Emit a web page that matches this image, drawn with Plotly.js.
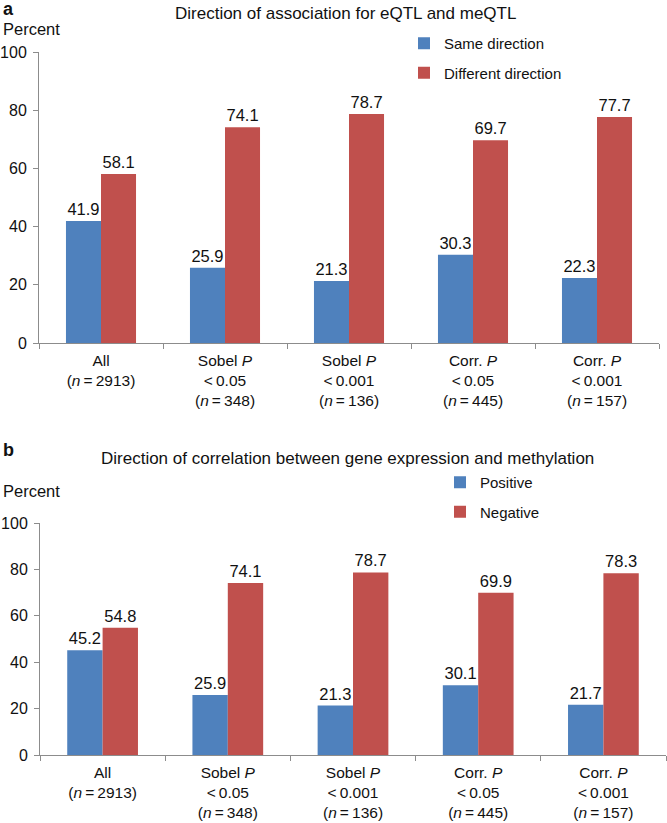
<!DOCTYPE html>
<html>
<head>
<meta charset="utf-8">
<script src="https://cdn.plot.ly/plotly-3.0.1.min.js"></script>
<style>
  html, body { margin: 0; padding: 0; background: #fff; }
  #graph { width: 667px; height: 823px; }
</style>
</head>
<body>
<div id="graph"></div>
<script>
// categories (shared by both panels)
const categories = [
    'All<br>(<i>n</i>\u2009=\u20092913)',
    'Sobel <i>P</i><br>&lt;\u20090.05<br>(<i>n</i>\u2009=\u2009348)',
    'Sobel <i>P</i><br>&lt;\u20090.001<br>(<i>n</i>\u2009=\u2009136)',
    'Corr. <i>P</i><br>&lt;\u20090.05<br>(<i>n</i>\u2009=\u2009445)',
    'Corr. <i>P</i><br>&lt;\u20090.001<br>(<i>n</i>\u2009=\u2009157)'
];

// panel a
const sameDirection = [41.9, 25.9, 21.3, 30.3, 22.3];
const differentDirection = [58.1, 74.1, 78.7, 69.7, 77.7];

// panel b
const positiveCorr = [45.2, 25.9, 21.3, 30.1, 21.7];
const negativeCorr = [54.8, 74.1, 78.7, 69.9, 78.3];

const yTicks = [0, 20, 40, 60, 80, 100];

const BLUE = '#4f81bd';
const RED = '#c0504d';
const FONT = 'Liberation Sans, Arial, sans-serif';

function barTrace(y, name, color, xa, ya, legendName, group) {
    return {
        type: 'bar',
        x: categories,
        y: y,
        name: name,
        xaxis: xa,
        yaxis: ya,
        legend: legendName,
        legendgroup: group,
        marker: { color: color, line: { width: 0 } },
        texttemplate: '%{y:.1f}',
        textposition: 'outside',
        textfont: { family: FONT, size: 16.5, color: '#111' },
        cliponaxis: false,
        hoverinfo: 'skip'
    };
}

const traces = [
    barTrace(sameDirection, 'Same direction', BLUE, 'x', 'y', 'legend', 'a1'),
    barTrace(differentDirection, 'Different direction', RED, 'x', 'y', 'legend', 'a2'),
    barTrace(positiveCorr, 'Positive', BLUE, 'x2', 'y2', 'legend2', 'b1'),
    barTrace(negativeCorr, 'Negative', RED, 'x2', 'y2', 'legend2', 'b2')
];

function xAxis(domain, anchor) {
    return {
        domain: domain,
        anchor: anchor,
        type: 'category',
        showline: true,
        linecolor: '#8c8c8c',
        linewidth: 1,
        ticks: 'outside',
        tickson: 'boundaries',
        ticklen: 5,
        tickcolor: '#8c8c8c',
        ticklabelstandoff: 3,
        showgrid: false,
        tickfont: { family: FONT, size: 15.5, color: '#111' },
        fixedrange: true
    };
}

function yAxis(domain, anchor) {
    return {
        domain: domain,
        anchor: anchor,
        range: [0, 100],
        tickvals: yTicks,
        showline: true,
        linecolor: '#8c8c8c',
        linewidth: 1,
        ticks: 'outside',
        ticklen: 5,
        tickcolor: '#8c8c8c',
        ticklabelstandoff: 3,
        showgrid: false,
        zeroline: false,
        tickfont: { family: FONT, size: 16, color: '#111' },
        fixedrange: true
    };
}

function label(text, x, y, size, bold, xanchor) {
    return {
        xref: 'paper', yref: 'paper',
        x: x / 667, y: 1 - y / 823,
        xanchor: xanchor || 'left', yanchor: 'middle',
        text: bold ? '<b>' + text + '</b>' : text,
        showarrow: false,
        font: { family: FONT, size: size, color: '#111' }
    };
}

const layout = {
    width: 667,
    height: 823,
    margin: { l: 0, r: 0, t: 0, b: 0 },
    paper_bgcolor: '#fff',
    plot_bgcolor: '#fff',
    barmode: 'group',
    bargap: 0.435,
    bargroupgap: 0,
    font: { family: FONT, size: 16, color: '#111' },
    xaxis: xAxis([39 / 667, 659 / 667], 'y'),
    yaxis: yAxis([1 - 343 / 823, 1 - 52 / 823], 'x'),
    xaxis2: xAxis([40 / 667, 666 / 667], 'y2'),
    yaxis2: yAxis([1 - 755 / 823, 1 - 523 / 823], 'x2'),
    legend: {
        x: 404 / 667, y: 1 - 27 / 823,
        xanchor: 'left', yanchor: 'top',
        bgcolor: 'rgba(0,0,0,0)',
        tracegroupgap: 7,
        font: { family: FONT, size: 15, color: '#111' }
    },
    legend2: {
        x: 440 / 667, y: 1 - 466 / 823,
        xanchor: 'left', yanchor: 'top',
        bgcolor: 'rgba(0,0,0,0)',
        tracegroupgap: 7,
        font: { family: FONT, size: 15, color: '#111' }
    },
    annotations: [
        label('a', 1, 9, 18, true),
        label('Direction of association for eQTL and meQTL', 345, 14, 17, false, 'center'),
        label('Percent', 1, 29, 16.5, false),
        label('b', 1, 450, 18, true),
        label('Direction of correlation between gene expression and methylation', 347, 458, 17, false, 'center'),
        label('Percent', 1, 491, 16.5, false)
    ]
};

Plotly.newPlot('graph', traces, layout, { displayModeBar: false, staticPlot: true });
</script>
</body>
</html>
